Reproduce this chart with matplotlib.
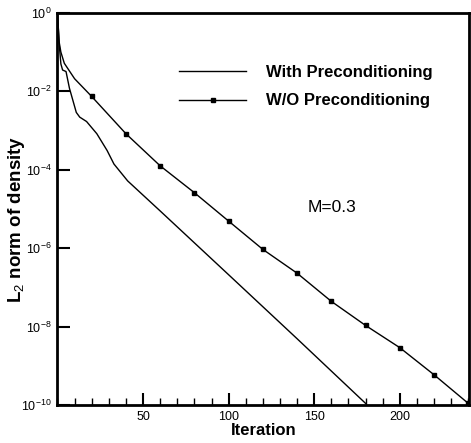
"""
Convergence history of the L2 norm of density, with and without preconditioning
"""

import numpy as np
import matplotlib
matplotlib.use('Agg')
import matplotlib.pyplot as plt
from matplotlib.ticker import FixedLocator, MultipleLocator

plt.rcParams['font.family'] = ['Liberation Sans', 'DejaVu Sans']
plt.rcParams['mathtext.fontset'] = 'custom'
plt.rcParams['mathtext.rm'] = 'Liberation Sans'

# with preconditioning
iter_pre = [0, 1, 2, 3, 5, 7, 11, 13, 17, 23, 29, 33, 41, 60, 100, 140, 180]
norm_pre = [1.0, 1.6e-1, 5.0e-2, 3.5e-2, 3.2e-2, 1.2e-2, 2.9e-3, 2.2e-3, 1.7e-3,
            8.3e-4, 3.1e-4, 1.4e-4, 5.2e-5, 8.9e-6, 2.1e-7, 4.9e-9, 1.1e-10]

# without preconditioning
iter_wo = [0, 1, 2, 4, 10, 20, 40, 60, 80, 100, 120, 140, 160, 180, 200, 220, 240]
norm_wo = [1.0, 1.8e-1, 1.0e-1, 5.2e-2, 2.1e-2, 7.4e-3, 8.3e-4, 1.26e-4, 2.6e-5,
           4.9e-6, 9.3e-7, 2.3e-7, 4.4e-8, 1.07e-8, 2.9e-9, 5.9e-10, 1.1e-10]

# markers every 20 iterations on the W/O curve
mark_idx = [5, 6, 7, 8, 9, 10, 11, 12, 13, 14, 15, 16]

fig = plt.figure(figsize=(4.71, 4.43), dpi=100)
ax = fig.add_axes([0.122, 0.0858, 0.874, 0.885])

ax.plot(iter_pre, norm_pre, color='black', lw=1.0, label='With Preconditioning')
ax.plot(iter_wo, norm_wo, color='black', lw=1.0, marker='s', ms=3,
        markevery=mark_idx, label='W/O Preconditioning')

ax.set_yscale('log')
ax.set_xlim(0, 240.5)
ax.set_ylim(1e-10, 1)

ax.xaxis.set_major_locator(FixedLocator([50, 100, 150, 200]))
ax.xaxis.set_minor_locator(MultipleLocator(10))
ax.yaxis.set_major_locator(FixedLocator([1e0, 1e-2, 1e-4, 1e-6, 1e-8, 1e-10]))
ax.yaxis.set_minor_locator(FixedLocator([]))
ax.set_yticklabels([r'$10^{0}$', r'$10^{-2}$', r'$10^{-4}$', r'$10^{-6}$',
                    r'$10^{-8}$', r'$10^{-10}$'])

ax.tick_params(which='major', direction='in', length=9, width=1.5, labelsize=9,
               top=False, right=False, pad=4)
ax.tick_params(which='minor', direction='in', length=5, width=1.0, top=False)
for s in ax.spines.values():
    s.set_linewidth(2.0)

ax.set_xlabel('Iteration', fontsize=12, fontweight='bold', labelpad=0)
ax.set_ylabel(r'L$_2$ norm of density', fontsize=13.5, fontweight='bold')
ax.yaxis.set_label_coords(-0.074, 0.474)

leg = ax.legend(loc='upper left', bbox_to_anchor=(0.28, 0.884), frameon=False,
                handlelength=4.0, handletextpad=1.2, labelspacing=0.8,
                borderaxespad=0, prop={'weight': 'bold', 'size': 12})

ax.text(0.667, 0.503, 'M=0.3', transform=ax.transAxes, fontsize=12.5,
        ha='center', va='center')

fig.savefig('out.png', dpi=100)
